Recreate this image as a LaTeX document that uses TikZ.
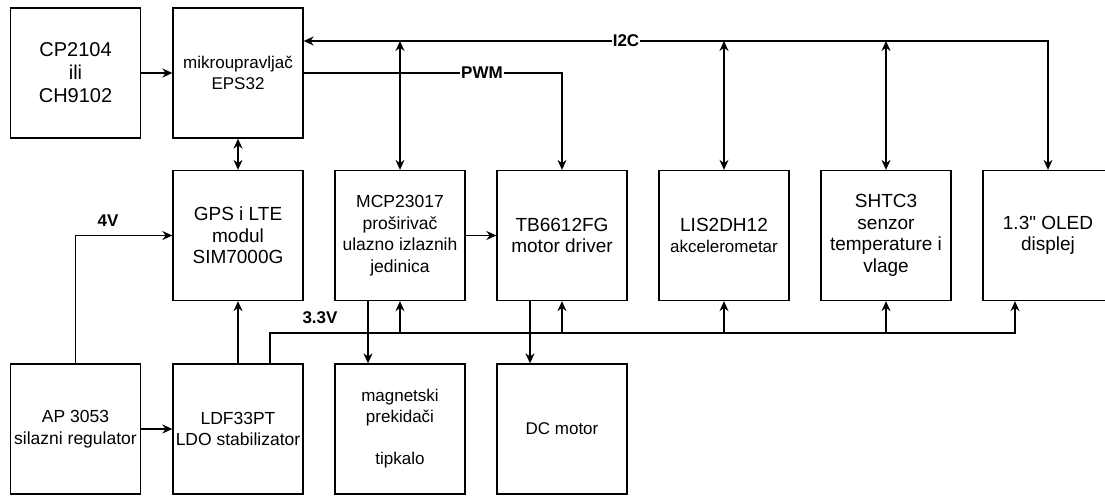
\documentclass[tikz,border=0pt]{standalone}
\usepackage{fontspec}
\setmainfont{Liberation Sans}
\newfontfamily\rawfont{Liberation Sans}[Ligatures=TeXOff]
\usetikzlibrary{arrows.meta,calc}
\begin{document}
\begin{tikzpicture}[x=1pt,y=-1pt,
  box/.style={draw, line width=1.3pt, minimum width=130pt, minimum height=130pt, inner sep=0pt, align=center},
  tip/.tip={Stealth[length=10pt,width=9pt]},
  con/.style={line width=1.3pt, -tip},
  bi/.style={line width=1.3pt, tip-tip},
  wire/.style={line width=1.3pt},
  lbl/.style={font=\fontsize{17}{20}\selectfont\bfseries, inner sep=1pt},
  fA/.style={font=\fontsize{20}{23}\selectfont},
  fB/.style={font=\fontsize{19}{21.5}\selectfont},
  fC/.style={font=\fontsize{17.5}{21.5}\selectfont},
  fD/.style={font=\fontsize{17}{21}\selectfont}
]
\useasboundingbox (0,0) rectangle (1105,495);
% coordinates for bus levels
\coordinate (i2c) at (0,41);
\coordinate (rail) at (0,333);
% boxes
\node[box,fA] (cp) at (75.5,73) {CP2104\\ili\\CH9102};
\node[box,fD] (esp) at (238,73) {mikroupravljač\\EPS32};
\node[box,fB] (gps) at (238,235.5) {GPS i LTE\\modul\\SIM7000G};
\node[box,fC] (mcp) at (400,235.5) {MCP23017\\proširivač\\ulazno izlaznih\\jedinica};
\node[box,fB] (tb) at (562,235.5) {TB6612FG\\motor driver};
\node[box,fB] (lis) at (724,235.5) {LIS2DH12\\{\fontsize{17}{21}\selectfont akcelerometar}};
\node[box,fB] (sht) at (886,235.5) {SHTC3\\senzor\\temperature i\\vlage};
\node[box,fB] (oled) at (1048,235.5) {1.3{\rawfont"} OLED\\displej};
\node[box,fC] (ap) at (75.5,429) {AP 3053\\silazni regulator};
\node[box,fC] (ldf) at (238,429) {LDF33PT\\LDO stabilizator};
\node[box,fD] (mag) at (400,429) {magnetski\\prekidači\\\strut\\tipkalo};
\node[box,fD] (dc) at (562,429) {DC motor};
% connectors
\draw[con] (cp.east) -- (esp.west);
\draw[bi] (esp.south) -- (gps.north);
\draw[bi] (esp.east |- i2c) -| (oled.north);
\draw[bi] (mcp.north |- i2c) -- (mcp.north);
\draw[bi] (lis.north |- i2c) -- (lis.north);
\draw[bi] (sht.north |- i2c) -- (sht.north);
\node[lbl, fill=white] (li2c) at (626,41) {I2C};
\draw[con] (esp.east) -| (tb.north);
\node[lbl, fill=white] (lpwm) at (482,73) {PWM};
\draw[con] (mcp.east) -- (tb.west);
\draw[con] (ap.north) |- (gps.west);
\node[lbl] (l4v) at (108,221) {4V};
\draw[con] (ldf.north) -- (gps.south);
\draw[con] (ap.east) -- (ldf.west);
\coordinate (ldfo) at ($(ldf.north)+(32,0)$);
\coordinate (oledi) at ($(oled.south)+(-33,0)$);
\draw[con] (ldfo) -- (ldfo |- rail) -- (oledi |- rail) -- (oledi);
\node[lbl] (l33) at (320,318) {3.3V};
\draw[con] (mcp.south |- rail) -- (mcp.south);
\draw[con] (tb.south |- rail) -- (tb.south);
\draw[con] (lis.south |- rail) -- (lis.south);
\draw[con] (sht.south |- rail) -- (sht.south);
\draw[con] ($(mcp.south)+(-32,0)$) -- ($(mag.north)+(-32,0)$);
\draw[con] ($(tb.south)+(-32,0)$) -- ($(dc.north)+(-32,0)$);
\end{tikzpicture}
\end{document}
